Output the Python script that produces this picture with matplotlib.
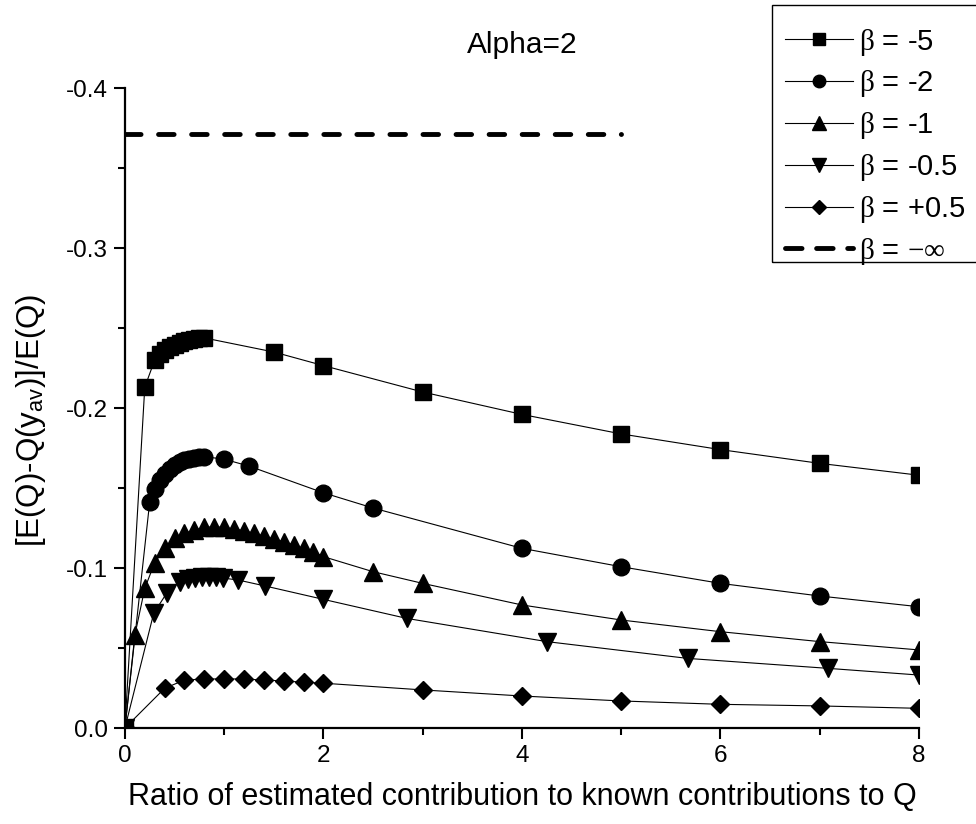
import matplotlib
matplotlib.use('Agg')
import matplotlib.pyplot as plt
from matplotlib.patches import Rectangle
from matplotlib.ticker import MultipleLocator, FormatStrFormatter

plt.rcParams['font.family'] = ['Liberation Sans', 'DejaVu Sans']
plt.rcParams['mathtext.fontset'] = 'custom'
plt.rcParams['mathtext.rm'] = 'Liberation Serif'
plt.rcParams['mathtext.it'] = 'Liberation Serif:italic'
plt.rcParams['axes.unicode_minus'] = False

# datos
x_b5 = [0, 0.2, 0.3, 0.35, 0.4, 0.45, 0.5, 0.55, 0.6, 0.65, 0.7, 0.75, 0.8,
        1.5, 2, 3, 4, 5, 6, 7, 8]
y_b5 = [0, -0.213, -0.230, -0.2335, -0.236, -0.238, -0.2395, -0.2408, -0.2418,
        -0.2426, -0.2432, -0.2436, -0.2438, -0.235, -0.2265, -0.210, -0.196,
        -0.1838, -0.174, -0.1654, -0.158]

x_b2 = [0, 0.25, 0.3, 0.35, 0.4, 0.45, 0.5, 0.55, 0.6, 0.65, 0.7, 0.75, 0.8,
        1.0, 1.25, 2, 2.5, 4, 5, 6, 7, 8]
y_b2 = [0, -0.1415, -0.1495, -0.155, -0.1588, -0.1618, -0.1642, -0.166, -0.1672,
        -0.1682, -0.169, -0.1695, -0.1696, -0.168, -0.1637, -0.147, -0.1375,
        -0.1123, -0.1008, -0.0904, -0.0825, -0.0758]

x_b1 = [0, 0.1, 0.2, 0.3, 0.4, 0.5, 0.6, 0.7, 0.8, 0.9, 1.0, 1.1, 1.2, 1.3,
        1.4, 1.5, 1.6, 1.7, 1.8, 1.9, 2.0, 2.5, 3, 4, 5, 6, 7, 8]
y_b1 = [0, -0.058, -0.0873, -0.1033, -0.1123, -0.1185, -0.1217, -0.1237,
        -0.1254, -0.1258, -0.1254, -0.1244, -0.1233, -0.1217, -0.1200, -0.1181,
        -0.1165, -0.1144, -0.1123, -0.1102, -0.1071, -0.0977, -0.0904, -0.0769,
        -0.0675, -0.0602, -0.054, -0.0488]

x_b05 = [0, 0.29, 0.42, 0.55, 0.64, 0.71, 0.78, 0.85, 0.92, 0.99, 1.14, 1.41,
         2.0, 2.84, 4.25, 5.67, 7.08, 8]
y_b05 = [0, -0.0717, -0.0842, -0.0915, -0.0932, -0.0938, -0.0942, -0.0943,
         -0.0941, -0.0937, -0.0925, -0.0888, -0.0804, -0.0685, -0.054, -0.0435,
         -0.0373, -0.0331]

x_bp05 = [0, 0.4, 0.6, 0.8, 1.0, 1.2, 1.4, 1.6, 1.8, 2.0, 3, 4, 5, 6, 7, 8]
y_bp05 = [0, -0.0248, -0.030, -0.0306, -0.0307, -0.0306, -0.030, -0.0294,
          -0.0286, -0.028, -0.0238, -0.020, -0.0169, -0.0148, -0.0138, -0.0123]

x_inf = [0, 5]
y_inf = [-0.371, -0.371]

etiquetas = [r'$\mathrm{\beta}$ = -5', r'$\mathrm{\beta}$ = -2', r'$\mathrm{\beta}$ = -1',
             r'$\mathrm{\beta}$ = -0.5', r'$\mathrm{\beta}$ = +0.5',
             r'$\mathrm{\beta}$ = $\mathrm{-\infty}$']

fig = plt.figure(figsize=(9.76, 8.24), dpi=100)
ax = fig.add_axes([0.128, 0.1165, 0.8135, 0.7767])

series = [(x_b5, y_b5, 's', 11), (x_b2, y_b2, 'o', 12), (x_b1, y_b1, '^', 13),
          (x_b05, y_b05, 'v', 13), (x_bp05, y_bp05, 'D', 9)]
for (xs, ys, m, ms), lab in zip(series, etiquetas):
    ax.plot(xs, ys, color='black', lw=0.8, marker=m, markersize=ms,
            markerfacecolor='black', markeredgecolor='black', label=lab)

ax.plot(x_inf, y_inf, color='black', lw=3.5, dashes=(3.2, 3.6),
        dash_capstyle='round', label=etiquetas[5])

ax.set_xlim(0, 8)
ax.set_ylim(0, -0.4)
ax.xaxis.set_major_locator(MultipleLocator(2))
ax.xaxis.set_minor_locator(MultipleLocator(1))
ax.yaxis.set_major_locator(MultipleLocator(0.1))
ax.yaxis.set_minor_locator(MultipleLocator(0.05))
ax.yaxis.set_major_formatter(FormatStrFormatter('%.1f'))

for lado in ['top', 'right']:
    ax.spines[lado].set_visible(False)
for lado in ['left', 'bottom']:
    ax.spines[lado].set_linewidth(1.6)

ax.tick_params(which='major', direction='out', length=8, width=1.5,
               labelsize=17.5, pad=4)
ax.tick_params(which='minor', direction='out', length=5, width=1.5)

ax.set_xlabel('Ratio of estimated contribution to known contributions to Q',
              fontsize=22, labelpad=11)
ax.set_ylabel(r'[E(Q)-Q(y$_{\mathregular{av}}$)]/E(Q)', fontsize=22.5)
ax.yaxis.set_label_coords(-0.097, 0.48)
ax.set_title('Alpha=2', fontsize=21.5, pad=25)

# leyenda sin marco, el marco se dibuja aparte
leg = fig.legend(loc='upper left', bbox_to_anchor=(772 / 976, 1 - 13.5 / 824),
                 bbox_transform=fig.transFigure, borderaxespad=0, fontsize=21,
                 frameon=False, handlelength=2.33, handletextpad=0.2,
                 borderpad=0.45, labelspacing=0.37, numpoints=1, markerscale=0.75)
leg.get_lines()[5].set_dashes((3.4, 3.0))
fig.patches.append(Rectangle((772 / 976, 1 - 262 / 824), 0.3, 257 / 824,
                             transform=fig.transFigure, fill=False,
                             edgecolor='black', linewidth=1.0))

plt.savefig('out.png', dpi=100)
